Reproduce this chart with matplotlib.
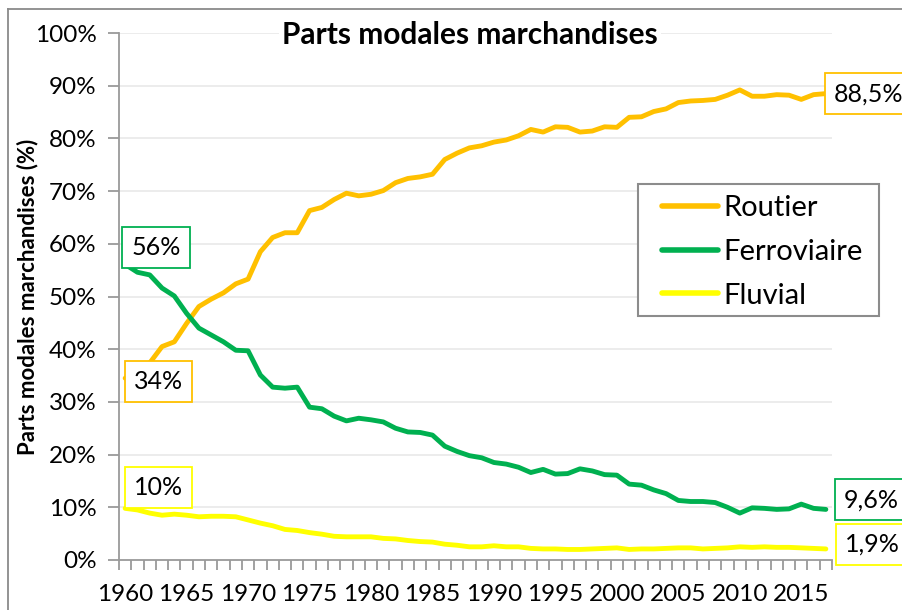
import matplotlib
matplotlib.use("Agg")
import matplotlib.pyplot as plt
from matplotlib.ticker import FixedLocator, FuncFormatter
from matplotlib.lines import Line2D
from matplotlib.patches import Rectangle

plt.rcParams['font.family'] = ['Lato', 'DejaVu Sans']

years = list(range(1960, 2018))

routier = [34.5, 36.0, 37.4, 40.5, 41.4, 44.9, 48.1, 49.5, 50.7, 52.4,
           53.3, 58.5, 61.2, 62.1, 62.1, 66.3, 66.9, 68.4, 69.6, 69.1,
           69.4, 70.1, 71.6, 72.4, 72.7, 73.2, 76.0, 77.2, 78.2, 78.6,
           79.3, 79.7, 80.5, 81.7, 81.2, 82.2, 82.1, 81.2, 81.4, 82.2,
           82.1, 84.0, 84.1, 85.1, 85.6, 86.8, 87.1, 87.2, 87.4, 88.2,
           89.2, 88.0, 88.0, 88.3, 88.2, 87.4, 88.3, 88.5]

ferroviaire = [56.1, 54.6, 54.1, 51.6, 50.1, 46.8, 44.0, 42.7, 41.4, 39.8,
               39.7, 35.1, 32.8, 32.6, 32.8, 29.0, 28.7, 27.3, 26.4, 26.9,
               26.6, 26.2, 25.0, 24.3, 24.2, 23.7, 21.6, 20.6, 19.8, 19.4,
               18.5, 18.2, 17.6, 16.6, 17.2, 16.3, 16.4, 17.3, 16.9, 16.2,
               16.1, 14.4, 14.2, 13.3, 12.6, 11.3, 11.1, 11.1, 10.9, 10.0,
               8.9, 9.9, 9.8, 9.6, 9.7, 10.6, 9.8, 9.6]

fluvial = [9.8, 9.5, 8.9, 8.5, 8.7, 8.5, 8.2, 8.3, 8.3, 8.2,
           7.6, 7.0, 6.5, 5.8, 5.6, 5.2, 4.9, 4.5, 4.4, 4.4,
           4.4, 4.1, 4.0, 3.7, 3.5, 3.4, 3.0, 2.8, 2.5, 2.5,
           2.7, 2.5, 2.5, 2.2, 2.1, 2.1, 2.0, 2.0, 2.1, 2.2,
           2.3, 2.0, 2.1, 2.1, 2.2, 2.3, 2.3, 2.1, 2.2, 2.3,
           2.5, 2.4, 2.5, 2.4, 2.4, 2.3, 2.2, 2.1]

series_names = ["Routier", "Ferroviaire", "Fluvial"]
series_colors = ["#FFC000", "#00B050", "#FFFF00"]
start_labels = ["34%", "56%", "10%"]
end_labels = ["88,5%", "9,6%", "1,9%"]

title = "Parts modales marchandises"
ylabel = "Parts modales marchandises (%)"
xtick_years = list(range(1960, 2016, 5))
ytick_vals = list(range(0, 101, 10))

W, H = 903, 610
fig = plt.figure(figsize=(W / 100, H / 100), dpi=100)
ax_l, ax_r, ax_t, ax_b = 119, 832, 33, 560
ax = fig.add_axes([ax_l / W, 1 - ax_b / H, (ax_r - ax_l) / W, (ax_b - ax_t) / H])

grid_c = "#EBEBEB"
axis_c = "#9A9A9A"
tick_fs = 17.5
lab_fs = 18

for v in ytick_vals[1:]:
    ax.axhline(v, color=grid_c, lw=1.3, zorder=0)

all_series = [routier, ferroviaire, fluvial]
for vals, name, col in zip(all_series, series_names, series_colors):
    ax.plot(years, vals, color=col, lw=3.5, label=name,
            solid_capstyle='round', solid_joinstyle='round', zorder=3)

ax.set_xlim(years[0] - 0.5, years[-1] + 0.5)
ax.set_ylim(0, 100)

for s in ["top", "right"]:
    ax.spines[s].set_visible(False)
for s in ["left", "bottom"]:
    ax.spines[s].set_color(axis_c)
    ax.spines[s].set_linewidth(1.3)

ax.yaxis.set_major_locator(FixedLocator(ytick_vals))
ax.yaxis.set_major_formatter(FuncFormatter(lambda v, p: f"{int(v)}%"))
ax.tick_params(axis='y', direction='out', length=8, width=1.3, color=axis_c,
               labelsize=tick_fs, pad=8, labelcolor="#000000")

ax.xaxis.set_major_locator(FixedLocator(xtick_years))
ax.set_xticklabels([str(y) for y in xtick_years])
ax.xaxis.set_minor_locator(FixedLocator([y - 0.5 for y in years] + [years[-1] + 0.5]))
ax.tick_params(axis='x', which='major', length=0, labelsize=tick_fs, pad=17)
ax.tick_params(axis='x', which='minor', direction='out', length=7, width=1.3, color=axis_c)

ax.set_ylabel(ylabel, fontsize=16, fontweight='bold')
ax.yaxis.label.set_va('center')
ax.yaxis.set_label_coords((28 - ax_l) / (ax_r - ax_l), 0.5)

fig.text(470 / W, 1 - 35 / H, title, ha='center', va='center', fontsize=21.5,
         fontweight='bold', bbox=dict(boxstyle='square,pad=0.12', fc='white', ec='none'),
         zorder=5)

# start labels
start_offsets = [(33, -3), (31, 16.5), (33, 21)]
for vals, col, lab, off in zip(all_series, series_colors, start_labels, start_offsets):
    ax.annotate(lab, xy=(years[0], vals[0]), xytext=off, textcoords='offset pixels',
                ha='center', va='center', fontsize=lab_fs, annotation_clip=False,
                bbox=dict(boxstyle='square,pad=0.36', fc='white', ec=col, lw=1.3), zorder=6)

end_offsets = [(43, 0), (45.5, 9.5), (46.5, 4.5)]
for vals, col, lab, off in zip(all_series, series_colors, end_labels, end_offsets):
    ax.annotate(lab, xy=(years[-1], vals[-1]), xytext=off, textcoords='offset pixels',
                ha='center', va='center', fontsize=lab_fs, annotation_clip=False,
                bbox=dict(boxstyle='square,pad=0.36', fc='white', ec=col, lw=1.3), zorder=6)

# legend frame
ax.add_patch(Rectangle((638 / W, 1 - 316 / H), (879 - 638) / W, (316 - 184) / H,
                       transform=fig.transFigure, fc='white', ec="#8C8C8C", lw=1.5,
                       zorder=4.5, clip_on=False))
leg = ax.legend(loc='center left', bbox_to_anchor=(662 / W, 1 - 252 / H),
                bbox_transform=fig.transFigure, fontsize=21, frameon=False,
                handlelength=1.92, handletextpad=0.2, labelspacing=0.6,
                borderpad=0, borderaxespad=0)
leg.set_zorder(6)
for lh in leg.get_lines():
    lh.set_linewidth(4)

# outer chart border (partially cropped)
fig.add_artist(Line2D([8 / W, 8 / W], [1 - 9 / H, 0], color="#8A8A8A", lw=1.3,
                      transform=fig.transFigure))
fig.add_artist(Line2D([8 / W, 1], [1 - 9 / H, 1 - 9 / H], color="#8A8A8A", lw=1.3,
                      transform=fig.transFigure))

fig.savefig("out.png", dpi=100)
